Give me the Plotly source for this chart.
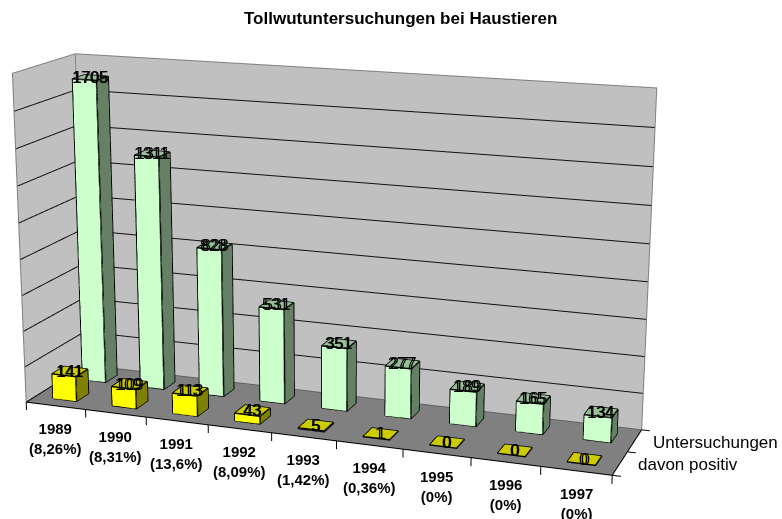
import numpy as np
import plotly.graph_objects as go

W, H = 782, 519
years = ["1989", "1990", "1991", "1992", "1993", "1994", "1995", "1996", "1997"]
shares = ["(8,26%)", "(8,31%)", "(13,6%)", "(8,09%)", "(1,42%)", "(0,36%)", "(0%)", "(0%)", "(0%)"]
untersuchungen = [1705, 1311, 828, 531, 351, 277, 189, 165, 134]
positiv = [141, 109, 113, 43, 5, 1, 0, 0, 0]
grid_values = [200, 400, 600, 800, 1000, 1200, 1400, 1600, 1800]

RX = (-0.5, 9.5); RY = (-0.5, 2.5); RZ = (-100.0, 1900.0)

# Camera for the scene; plotly's field of view is fixed, so the long lens of the
# reference needs a large scene whose centre sits at (cx, cy) in the window.
eye = [1.666, -4.534, 1.236]; cen = [0.002, -0.021, -0.084]; asp = [1.722, 0.511, 0.96]
fpx, cx, cy = 1995.0, 325.0, 286.0
Hf = int(round(2*fpx*np.tan(np.pi/8)))
Wf = int(Hf*1.5)
left = cx-Wf/2; top = cy-Hf/2

def quads(qs, color):
    xs, ys, zs, i, j, k = [], [], [], [], [], []
    for q in qs:
        b = len(xs)
        for v in q:
            xs.append(v[0]); ys.append(v[1]); zs.append(v[2])
        i += [b, b]; j += [b+1, b+2]; k += [b+2, b+3]
    return go.Mesh3d(x=xs, y=ys, z=zs, i=i, j=j, k=k, color=color, flatshading=True, hoverinfo="skip",
                     lighting=dict(ambient=1, diffuse=0, specular=0, fresnel=0, roughness=1))

def lines(segs, color, width):
    xs, ys, zs = [], [], []
    for s in segs:
        for v in s:
            xs.append(v[0]); ys.append(v[1]); zs.append(v[2])
        xs.append(None); ys.append(None); zs.append(None)
    return go.Scatter3d(x=xs, y=ys, z=zs, mode="lines", line=dict(color=color, width=width), hoverinfo="skip", showlegend=False)

FL = -3
fig = go.Figure()
fig.add_trace(quads([[(-.01,0,FL),(-.01,2,FL),(-.01,2,1800),(-.01,0,1800)], [(0,2.01,FL),(9,2.01,FL),(9,2.01,1800),(0,2.01,1800)]], "#C0C0C0"))
fig.add_trace(quads([[(0,0,FL),(9,0,FL),(9,2,FL),(0,2,FL)]], "#808080"))
fig.add_trace(lines([[(0,0,g),(0,2,g),(9,2,g)] for g in grid_values[:-1]], "#111111", 2))
fig.add_trace(lines([[(0,0,0),(0,0,1800),(0,2,1800),(9,2,1800),(9,2,0)], [(0,2,0),(0,2,1800)]], "#808080", 2))
fig.add_trace(lines([[(0,2,0),(9,2,0)]], "#606060", 2))
fig.add_trace(lines([[(0,2,0),(0,0,0),(9,0,0),(9,2,0)]]
                    + [[(i,0,0),(i,0,-45)] for i in range(10)]
                    + [[(9,s,0),(9.12,s,0)] for s in range(3)], "#000000", 2))

def bars(vals, y0, y1, cf, ct, cs):
    front, top_f, side, edges = [], [], [], []
    for idx, v in enumerate(vals):
        x0, x1 = idx+.3, idx+.7
        if v > 0:
            front.append([(x0,y0,FL),(x1,y0,FL),(x1,y0,v),(x0,y0,v)])
            side.append([(x1,y0,FL),(x1,y1,FL),(x1,y1,v),(x1,y0,v)])
            edges += [[(x0,y0,0),(x1,y0,0),(x1,y1,0),(x1,y1,v),(x1,y0,v),(x1,y0,0)],
                      [(x0,y0,0),(x0,y0,v),(x1,y0,v)]]
        top_f.append([(x0,y0,v),(x1,y0,v),(x1,y1,v),(x0,y1,v)])
        edges.append([(x0,y0,v),(x0,y1,v),(x1,y1,v),(x1,y0,v),(x0,y0,v)])
    out = [quads(top_f, ct)]
    if side:
        out.append(quads(side, cs))
    if front:
        out.append(quads(front, cf))
    out.append(lines(edges, "#000000", 3))
    return out

for t in bars(positiv, .3, .7, "#FFFF00", "#CCCC00", "#808000"):
    fig.add_trace(t)
for t in bars(untersuchungen, 1.3, 1.7, "#CCFFCC", "#99BF99", "#668066"):
    fig.add_trace(t)

FONT = "Liberation Sans"
ann = []
for idx in range(9):
    ann.append(dict(x=idx+.5, y=0, z=0, text="<b>"+years[idx]+"<br>"+shares[idx]+"</b>", showarrow=False, xshift=0, yshift=-33,
                    font=dict(family=FONT, size=15, color="#000000"), align="center"))
    for vals, yc in ((positiv, .5), (untersuchungen, 1.5)):
        for dx in (-.8, .8):
            ann.append(dict(x=idx+.5, y=yc, z=vals[idx], text=str(vals[idx]), showarrow=False, xshift=dx,
                            font=dict(family=FONT, size=16, color="#000000")))
for yc, label in ((1.5, "Untersuchungen"), (0.5, "davon positiv")):
    ann.append(dict(x=9, y=yc, z=0, text=label, showarrow=False, xanchor="left", xshift=16, yshift=-1.5,
                    font=dict(family=FONT, size=17, color="#000000")))

def ax(r):
    return dict(range=list(r), visible=False, showgrid=False, showbackground=False, showspikes=False, zeroline=False, showticklabels=False, title="")

fig.update_layout(
    width=Wf, height=Hf, autosize=False, showlegend=False, margin=dict(l=0, r=0, t=0, b=0, pad=0), paper_bgcolor="#FFFFFF",
    scene=dict(domain=dict(x=[0,1], y=[0,1]), xaxis=ax(RX), yaxis=ax(RY), zaxis=ax(RZ), aspectmode="manual",
               aspectratio=dict(x=asp[0], y=asp[1], z=asp[2]),
               camera=dict(eye=dict(x=eye[0], y=eye[1], z=eye[2]),
                           center=dict(x=cen[0], y=cen[1], z=cen[2]),
                           up=dict(x=0, y=0, z=1), projection=dict(type="perspective")),
               annotations=ann),
    annotations=[dict(xref="paper", yref="paper", x=(400-left)/Wf, y=1-(18-top)/Hf, text="<b>Tollwutuntersuchungen bei Haustieren</b>", showarrow=False,
                      font=dict(family=FONT, size=17, color="#000000"))],
)
post = ("var g=document.getElementById('{plot_id}');document.documentElement.style.overflow='hidden';"
        "document.body.style.margin='0';document.body.style.overflow='hidden';"
        "g.style.position='absolute';g.style.left='%dpx';g.style.top='%dpx';" % (round(left), round(top)))
fig.write_html("out.html", post_script=post, config=dict(displayModeBar=False), default_width=Wf, default_height=Hf)
